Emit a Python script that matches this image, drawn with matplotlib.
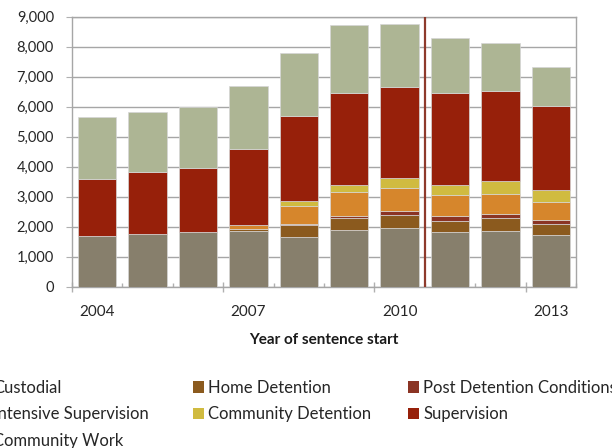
import numpy as np
import matplotlib.pyplot as plt
from matplotlib.patches import Patch

plt.rcParams['font.family'] = ['Lato', 'DejaVu Sans']

# Sentences by type and year of sentence start
years = [2004, 2005, 2006, 2007, 2008, 2009, 2010, 2011, 2012, 2013]
custodial = [1690, 1745, 1835, 1865, 1660, 1890, 1955, 1835, 1865, 1720]
home_detention = [0, 0, 0, 45, 385, 388, 434, 355, 411, 370]
post_detention = [0, 0, 0, 0, 45, 90, 133, 155, 157, 132]
intensive_supervision = [0, 0, 0, 135, 610, 790, 756, 700, 645, 611]
community_detention = [0, 0, 0, 0, 167, 242, 355, 355, 444, 389]
supervision = [1888, 2066, 2132, 2533, 2833, 3067, 3011, 3067, 3011, 2800]
community_work = [2066, 2011, 2022, 2122, 2089, 2244, 2100, 1833, 1589, 1300]

names = ["Custodial", "Home Detention", "Post Detention Conditions",
         "Intensive Supervision", "Community Detention", "Supervision",
         "Community Work"]
colours = ["#877f6c", "#8b5a1e", "#8b3424", "#d6862c", "#d0bb40",
           "#97200a", "#adb594"]
series = [custodial, home_detention, post_detention, intensive_supervision,
          community_detention, supervision, community_work]

fig = plt.figure(figsize=(6.12, 4.48), dpi=100)
ax = fig.add_axes([0.1176, 0.360, 0.8235, 0.6027])

x = np.arange(len(years))
bottom = np.zeros(len(years))
for vals, col in zip(series, colours):
    ax.bar(x, vals, width=0.76, bottom=bottom, color=col,
           edgecolor='#d6d6d6', linewidth=0.5, zorder=3)
    bottom = bottom + np.array(vals)

# break in the series between 2010 and 2011
ax.axvline(6.5, color='#8e3a2c', linewidth=1.6, zorder=4)

ax.set_xlim(-0.5, 9.5)
ax.set_ylim(0, 9000)
ax.set_yticks(np.arange(0, 9001, 1000))
ax.set_yticklabels(["{:,}".format(v) for v in range(0, 9001, 1000)])
ax.yaxis.grid(True, color='#a6a6a6', linewidth=1.0, zorder=0)
ax.set_axisbelow(True)

ax.set_xticks([-0.5, 2.5, 5.5, 8.5])
ax.set_xticklabels([])
ax.set_xticks(np.arange(-0.5, 9.6, 1.0), minor=True)
for i in [0, 3, 6, 9]:
    ax.text(i, -0.068, str(years[i]), transform=ax.get_xaxis_transform(),
            ha='center', va='top', fontsize=11, color='#262626')
ax.tick_params(axis='x', which='major', direction='inout', length=7,
               color='#b0b0b0', width=1)
ax.tick_params(axis='x', which='minor', direction='in', length=3.2,
               color='#b0b0b0', width=1)
ax.tick_params(axis='y', direction='out', length=4, color='#b0b0b0',
               labelsize=10.5, labelcolor='#262626', pad=9)

for s in ax.spines.values():
    s.set_color('#a6a6a6')
    s.set_linewidth(1.0)

ax.set_xlabel("Year of sentence start", fontsize=11, fontweight='bold',
              labelpad=26, color='#1a1a1a')

# legend in three columns, filled row by row
columns = [[0, 3, 6], [1, 4], [2, 5]]
col_x = [-22, 193, 408]
for idx, px in zip(columns, col_x):
    handles = [Patch(facecolor=colours[i], edgecolor='none') for i in idx]
    labels = [names[i] for i in idx]
    fig.legend(handles, labels, loc='upper left',
               bbox_to_anchor=(px / 612, 0.152), frameon=False, fontsize=12,
               handlelength=0.65, handleheight=0.65, handletextpad=0.25,
               labelspacing=0.62, borderpad=0, borderaxespad=0,
               labelcolor='#262626')

fig.savefig("out.png", dpi=100)
